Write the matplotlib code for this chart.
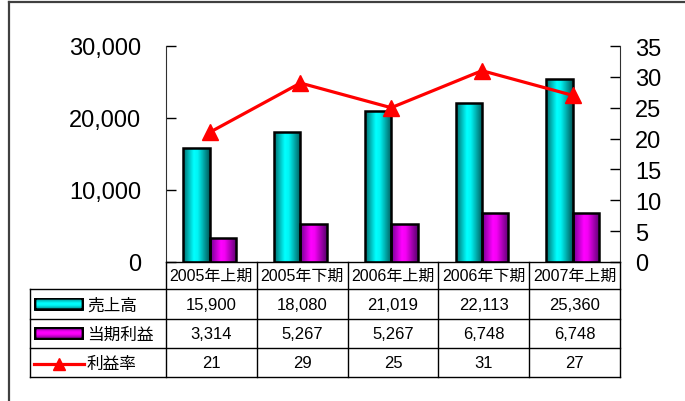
import matplotlib
matplotlib.use("Agg")
import matplotlib.pyplot as plt
import numpy as np
from matplotlib.colors import LinearSegmentedColormap
from matplotlib.lines import Line2D
from matplotlib.patches import FancyBboxPatch

plt.rcParams["font.family"] = ["Liberation Sans", "Noto Sans CJK JP", "DejaVu Sans"]

# data
categories = ["2005年上期", "2005年下期", "2006年上期", "2006年下期", "2007年上期"]
series_names = ["売上高", "当期利益", "利益率"]
sales = [15900, 18080, 21019, 22113, 25360]
profit = [3314, 5267, 5267, 6748, 6748]
margin = [21, 29, 25, 31, 27]

W, H = 685, 402
fig = plt.figure(figsize=(W / 100, H / 100), dpi=100)


def fx(px):
    return px / W


def fy(py):
    return 1 - py / H


cyan_cmap = LinearSegmentedColormap.from_list(
    "cy", [(0, "#006e6e"), (0.4, "#00ffff"), (0.55, "#00f4f4"), (1, "#005a5a")])
mag_cmap = LinearSegmentedColormap.from_list(
    "mg", [(0, "#700090"), (0.4, "#ff00ff"), (0.55, "#f400f4"), (1, "#5a0070")])

ax = fig.add_axes([fx(166), fy(263), fx(620) - fx(166), fy(47) - fy(263)])
ax2 = ax.twinx()

x = np.arange(len(categories))
bw = 0.29
shift = -0.02
grad = np.linspace(0, 1, 64).reshape(1, -1)
for vals, off, cmap in [(sales, -bw / 2, cyan_cmap), (profit, bw / 2, mag_cmap)]:
    bars = ax.bar(x + shift + off, vals, width=bw, facecolor="none",
                  edgecolor="black", linewidth=1.8, zorder=3)
    for b in bars:
        im = ax.imshow(grad, cmap=cmap, aspect="auto", zorder=2,
                       extent=[b.get_x(), b.get_x() + b.get_width(), 0, b.get_height()])
        im.set_clip_path(b)

ax2.plot(x + shift, margin, color="#ff0000", linewidth=2.3, marker="^",
         markersize=12, zorder=4)

ax.set_xlim(-0.5, len(categories) - 0.5)
ax.set_ylim(0, 30000)
ax2.set_ylim(0, 35)
ax.set_yticks([0, 10000, 20000, 30000])
ax.set_yticklabels([f"{v:,}" for v in [0, 10000, 20000, 30000]])
ax2.set_yticks(range(0, 36, 5))
ax.set_xticks([])

for a in (ax, ax2):
    for s in ("top", "bottom"):
        a.spines[s].set_visible(False)
    a.spines["left"].set_visible(a is ax)
    a.spines["right"].set_visible(a is ax2)
    a.tick_params(axis="y", direction="in", length=7, width=1, labelsize=17)
ax.spines["left"].set_color("#303030")
ax2.spines["right"].set_color("#303030")
ax.tick_params(axis="y", pad=18)
ax2.tick_params(axis="y", pad=11)

# data table under the chart
to_fig = fig.transFigure.inverted()
bounds = [to_fig.transform(ax.transData.transform((i - 0.5, 0)))[0]
          for i in range(len(categories) + 1)]
row_y = [263, 290, 320, 349, 378]
left_x = fx(30)
lc = "black"
lw = 1.0

fig.add_artist(Line2D([bounds[0], bounds[-1]], [fy(263)] * 2, color=lc, lw=lw))
for yy in row_y[1:]:
    fig.add_artist(Line2D([left_x, bounds[-1]], [fy(yy)] * 2, color=lc, lw=lw))
for bx in bounds:
    fig.add_artist(Line2D([bx, bx], [fy(263), fy(378)], color=lc, lw=lw))
fig.add_artist(Line2D([left_x, left_x], [fy(290), fy(378)], color=lc, lw=lw))

for i, cat in enumerate(categories):
    cx = (bounds[i] + bounds[i + 1]) / 2
    fig.text(cx, fy(276.5), cat, ha="center", va="center", fontsize=11.5)
    for r, txt in enumerate([f"{sales[i]:,}", f"{profit[i]:,}", f"{margin[i]}"]):
        fig.text(cx, fy((row_y[r + 1] + row_y[r + 2]) / 2), txt,
                 ha="center", va="center", fontsize=12)

# legend keys in the first column
for r, (name, cmap) in enumerate(zip(series_names, [cyan_cmap, mag_cmap, None])):
    yc = (row_y[r + 1] + row_y[r + 2]) / 2
    if cmap is not None:
        kax = fig.add_axes([fx(34), fy(yc + 6.5), fx(84) - fx(34), fy(yc - 6.5) - fy(yc + 6.5)])
        kgrad = np.concatenate([np.linspace(0, 0.45, 16), np.linspace(0.45, 1, 16)]).reshape(-1, 1)
        kax.imshow(kgrad, cmap=cmap, aspect="auto", extent=[0, 1, 0, 1])
        box = FancyBboxPatch((0.02, 0.06), 0.96, 0.88, boxstyle="round,pad=0,rounding_size=0.05",
                             transform=kax.transAxes, facecolor="none",
                             edgecolor="black", linewidth=2)
        kax.add_patch(box)
        kax.set_axis_off()
    else:
        fig.add_artist(Line2D([fx(34), fx(84)], [fy(yc + 1)] * 2, color="#ff0000", lw=2.3))
        fig.add_artist(Line2D([fx(59)], [fy(yc + 1)], color="#ff0000", marker="^",
                              markersize=9, lw=0))
    fig.text(fx(87), fy(yc + 1), name, ha="left", va="center", fontsize=12)

# chart area frame (only left and top edges fall inside the image)
fig.add_artist(Line2D([fx(8.5), fx(8.5)], [fy(2.5), 0], color="#404040", lw=1.6))
fig.add_artist(Line2D([fx(8.5), 1], [fy(2.5), fy(2.5)], color="#404040", lw=1.6))

fig.savefig("out.png", dpi=100)
